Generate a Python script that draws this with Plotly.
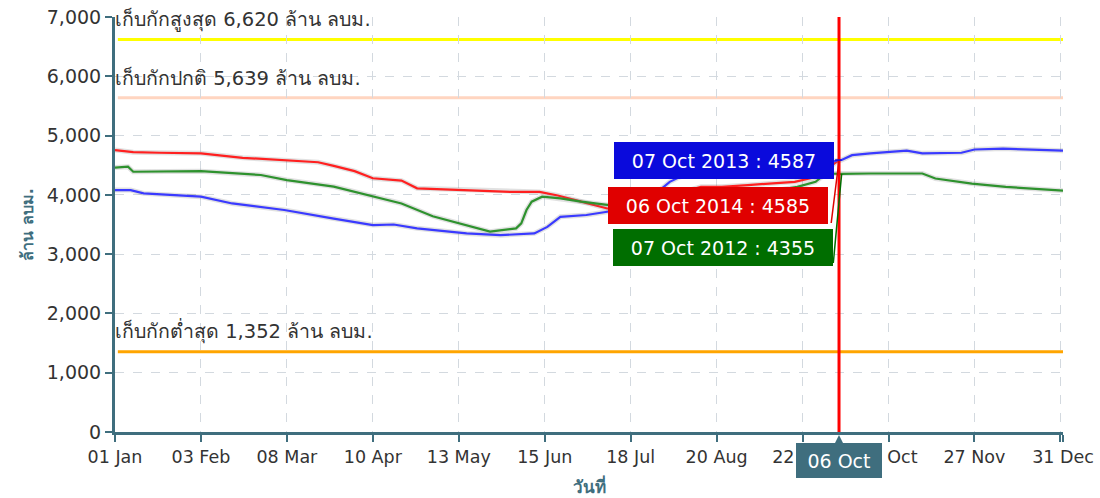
import pandas as pd
import plotly.graph_objects as go

# ---------------- data (day-of-year offsets from 01 Jan) ----------------
days_2014 = [0, 7, 17, 33, 49, 67, 78, 84, 92, 99, 110, 116, 135, 152, 163, 170, 179, 189,
             200, 212, 225, 233, 243, 261, 269, 278]
vals_2014 = [4755, 4720, 4710, 4700, 4625, 4580, 4550, 4490, 4400, 4280, 4240, 4110, 4080, 4050,
             4050, 3990, 3885, 3770, 3820, 3980, 4135, 4135, 4165, 4220, 4300, 4585]

days_2013 = [0, 6, 11, 33, 45, 65, 84, 99, 107, 116, 135, 148, 161, 166, 171, 181, 189, 200,
             207, 213, 217, 230, 245, 260, 272, 279, 283, 290, 304, 310, 325, 330, 341, 364]
vals_2013 = [4080, 4080, 4025, 3970, 3855, 3745, 3600, 3490, 3500, 3435, 3350, 3320, 3350, 3460,
             3630, 3660, 3715, 3800, 4000, 4220, 4305, 4380, 4420, 4480, 4540, 4587, 4670, 4700,
             4745, 4700, 4710, 4765, 4780, 4745]

days_2012 = [0, 5, 7, 33, 56, 66, 84, 99, 110, 122, 135, 144, 154, 156, 158, 160, 164, 171, 179,
             189, 200, 215, 235, 250, 262, 269, 273, 279, 290, 310, 315, 329, 342, 364]
vals_2012 = [4460, 4475, 4390, 4400, 4335, 4250, 4140, 3970, 3855, 3640, 3490, 3380, 3435, 3520,
             3745, 3885, 3970, 3940, 3885, 3830, 3850, 3900, 3980, 4050, 4135, 4220, 4360, 4355,
             4360, 4360, 4275, 4190, 4135, 4070]

ref_values = [6620, 5639, 1352]
ref_labels = ["เก็บกักสูงสุด 6,620 ล้าน ลบม.", "เก็บกักปกติ 5,639 ล้าน ลบม.", "เก็บกักต่ำสุด 1,352 ล้าน ลบม."]
ref_colors = ["#ffff00", "#ffd5c0", "#ffa500"]

tick_days = [0, 33, 66, 99, 132, 165, 198, 231, 264, 297, 330, 363, 364]
y_ticks = [0, 1000, 2000, 3000, 4000, 5000, 6000, 7000]

marker_day = 278
marker_label = "06 Oct"
# text, day, value, colour, (box offset px x, y), connector start (day, value)
callouts = [("07 Oct 2012 : 4355", 279, 4355, "#006e00", -119, -74, 275.8, 2850),
            ("06 Oct 2014 : 4585", 278, 4585, "#e00000", -121, -45, 275.0, 3525),
            ("07 Oct 2013 : 4587", 279, 4587, "#0a0adc", -118, 0, 276.5, 4587)]

# ---------------- helpers ----------------
base = pd.Timestamp("2015-01-01")
def to_date(d):
    return base + pd.Timedelta(days=d)

AX = "#3f6e7e"
FONT = "DejaVu Sans"

fig = go.Figure()
series = [(days_2014, vals_2014, "#ff2020", "2014"),
          (days_2013, vals_2013, "#3a3aff", "2013"),
          (days_2012, vals_2012, "#2e922e", "2012")]
for d, v, c, name in series:
    x = [to_date(i) for i in d]
    fig.add_trace(go.Scatter(x=x, y=v, mode="lines", line=dict(color="rgba(120,120,120,0.22)", width=5),
                             hoverinfo="skip", showlegend=False))
    fig.add_trace(go.Scatter(x=x, y=v, mode="lines", line=dict(color=c, width=2.2), name=name,
                             showlegend=False))

# reference lines
for val, lab, col in zip(ref_values, ref_labels, ref_colors):
    fig.add_shape(type="line", xref="paper", x0=0.003, x1=1, yref="y", y0=val, y1=val,
                  line=dict(color=col, width=3), layer="below")
    fig.add_annotation(xref="paper", x=0, xanchor="left", xshift=-1, yref="y", y=val,
                       yanchor="bottom", yshift=7, text=lab, showarrow=False, borderpad=0,
                       font=dict(family=FONT, size=19.5, color="#333333"))

# marker vertical line
fig.add_shape(type="line", xref="x", x0=to_date(marker_day), x1=to_date(marker_day),
              yref="y", y0=0, y1=7000, line=dict(color="#ff0000", width=3), layer="above")

for text, d, v, col, sx, sy, cd, cv in callouts:
    fig.add_shape(type="line", xref="x", yref="y", x0=to_date(cd), y0=cv, x1=to_date(d), y1=v,
                  line=dict(color=col, width=1.5), layer="above")
    fig.add_annotation(x=to_date(d), y=v, xref="x", yref="y", text=text, showarrow=False,
                       xshift=sx, yshift=sy, xanchor="center", yanchor="middle",
                       bgcolor=col, bordercolor=col, width=216, height=33, borderpad=1,
                       font=dict(family=FONT, size=19, color="white"))

fig.add_annotation(x=to_date(marker_day), xref="x", y=0, yref="y", text=marker_label,
                   showarrow=True, ax=0, ay=28, arrowhead=2, arrowsize=1.2, arrowwidth=2,
                   arrowcolor=AX, standoff=3, bgcolor=AX, bordercolor=AX, width=82, height=31,
                   font=dict(family=FONT, size=19, color="white"))

tick_text = [to_date(d).strftime("%d %b") for d in tick_days]
tick_text[-2] = ""

fig.update_layout(
    width=1100, height=498,
    margin=dict(l=115, r=37, t=17, b=66, autoexpand=False),
    paper_bgcolor="white", plot_bgcolor="white",
    font=dict(family=FONT, color="#333333"),
    xaxis=dict(range=[to_date(0), to_date(364)], tickvals=[to_date(d) for d in tick_days],
               ticktext=tick_text, showline=True, linecolor=AX, linewidth=3,
               ticks="outside", ticklen=7, tickwidth=2, tickcolor=AX, automargin=False,
               ticklabeloverflow="allow",
               tickfont=dict(family=FONT, size=17.5, color="#333333"),
               showgrid=True, gridcolor="#d3d9df", griddash="dash", gridwidth=1,
               zeroline=False,
               title=dict(text="<b>วันที่</b>", font=dict(family=FONT, size=17, color=AX), standoff=16)),
    yaxis=dict(range=[0, 7000], tickvals=y_ticks, tickformat=",d", showline=True, linecolor=AX,
               linewidth=3, ticks="outside", ticklen=7, tickwidth=2, tickcolor=AX, automargin=False,
               ticklabeloverflow="allow",
               tickfont=dict(family=FONT, size=19, color="#333333"),
               showgrid=True, gridcolor="#d3d9df", griddash="dash", gridwidth=1,
               zeroline=False,
               title=dict(text="<b>ล้าน ลบม.</b>", font=dict(family=FONT, size=16, color=AX), standoff=10)),
)

# remove the browser's default 8px body margin so the figure fills the window
fig.write_html("out.html", config={"displayModeBar": False},
               post_script="document.body.style.margin='0';")
